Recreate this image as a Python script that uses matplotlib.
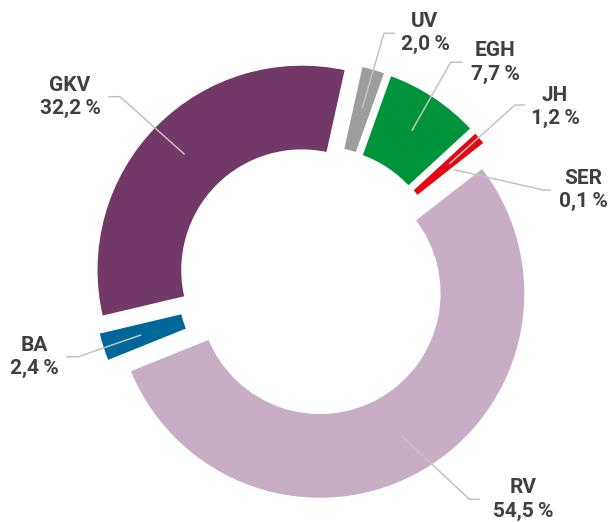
import numpy as np
import matplotlib
matplotlib.use('Agg')
import matplotlib.pyplot as plt

# shares in percent, clockwise from the top
labels = ['UV', 'EGH', 'JH', 'SER', 'RV', 'BA', 'GKV']
shares = [2.0, 7.7, 1.2, 0.1, 54.5, 2.4, 32.2]
colors = ['#9d9d9d', '#00943a', '#e30613', '#ffffff', '#c8aec4', '#00679b', '#723966']

# label block centre / leader elbow / leader end (px)
text_pos = [(425, 33), (495, 62.5), (555, 107), (583, 190), (523, 499.5), (34, 357), (70, 97)]
elbow = [(384, 33.3), (450.7, 62.3), (515, 105), (543.3, 190), (469.3, 499.3), (78.3, 356.7), (120, 96.7)]
line_end = [(395, 33.3), (462.7, 62.3), (525, 105), (550.7, 190), (480, 499.3), (66, 356.7), (108.3, 96.7)]

W, H = 608, 522
cx, cy, R = 312.5, 280.5, 206
start = 77.5
expl = 0.072


def px(p):
    return ((p[0] - cx) / R, (cy - p[1]) / R)


plt.rcParams['font.family'] = ['Roboto', 'DejaVu Sans']

fig = plt.figure(figsize=(W / 100, H / 100), dpi=100)
ax = fig.add_axes([0, 0, 1, 1])

ax.pie(shares, colors=colors, radius=1.0, startangle=start,
       counterclock=False, normalize=True, explode=[expl] * len(shares),
       wedgeprops=dict(width=0.422, linewidth=2.3, edgecolor='white'))
ax.set_xlim(-cx / R, (W - cx) / R)
ax.set_ylim((cy - H) / R, cy / R)
ax.set_aspect('auto')
ax.axis('off')

# leader lines and labels
total = sum(shares)
cum = np.cumsum(shares) / total
for i, (lab, s) in enumerate(zip(labels, shares)):
    mid = np.deg2rad(start - 360 * (cum[i] - s / total / 2))
    x0, y0 = (0.8 + expl) * np.cos(mid), (0.8 + expl) * np.sin(mid)
    ex, ey = px(elbow[i])
    lx, ly = px(line_end[i])
    ax.plot([x0, ex, lx], [y0, ey, ly], color='#c3c3c3', lw=1.1, zorder=4,
            solid_capstyle='butt')
    tx, ty = px(text_pos[i])
    txt = f'{lab}\n{s:.1f}'.replace('.', ',') + '\u2009%'
    ax.text(tx, ty, txt, ha='center', va='center', multialignment='center',
            fontsize=15, fontweight='bold', color='#404040', linespacing=1.3,
            zorder=5)

plt.savefig('out.png', dpi=100, facecolor='white')
